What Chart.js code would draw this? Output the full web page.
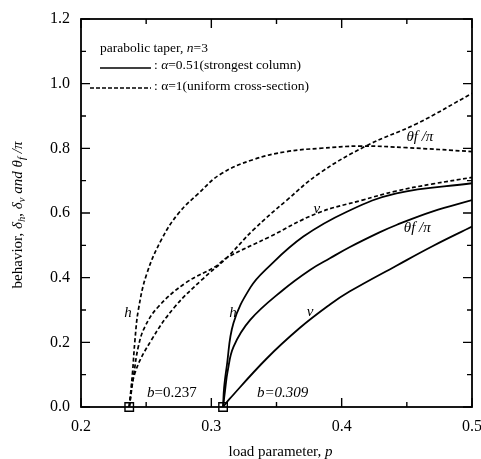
<!DOCTYPE html>
<html>
<head>
<meta charset="utf-8">
<script src="https://cdn.jsdelivr.net/npm/chart.js@4"></script>
<style>
  body { margin: 0; background: #fff; }
  canvas { display: block; }
</style>
</head>
<body>
<canvas id="chart" width="481" height="459"></canvas>
<script>
// alpha = 1 (uniform cross-section), dashed
const hDashP = [0.237, 0.2395, 0.2414, 0.244, 0.2503, 0.262, 0.275, 0.290, 0.307, 0.332, 0.358, 0.383, 0.414, 0.45, 0.5];
const hDashV = [0, 0.105, 0.207, 0.30, 0.41, 0.52, 0.60, 0.66, 0.72, 0.765, 0.79, 0.80, 0.807, 0.802, 0.79];
const vDashP = [0.237, 0.2405, 0.244, 0.249, 0.2593, 0.280, 0.303, 0.312, 0.345, 0.381, 0.416, 0.442, 0.47, 0.5];
const vDashV = [0, 0.10, 0.187, 0.248, 0.31, 0.383, 0.434, 0.462, 0.527, 0.599, 0.64, 0.668, 0.69, 0.71];
const thDashP = [0.237, 0.2414, 0.254, 0.272, 0.2926, 0.312, 0.332, 0.358, 0.383, 0.419, 0.458, 0.5];
const thDashV = [0, 0.105, 0.207, 0.31, 0.393, 0.462, 0.547, 0.64, 0.723, 0.808, 0.877, 0.97];

// alpha = 0.51 (strongest column), solid
const hSolidP = [0.309, 0.3098, 0.3118, 0.317, 0.330, 0.3425, 0.3706, 0.404, 0.442, 0.5];
const hSolidV = [0, 0.06, 0.125, 0.26, 0.37, 0.428, 0.527, 0.604, 0.661, 0.692];
const thSolidP = [0.309, 0.3105, 0.3125, 0.317, 0.330, 0.355, 0.3757, 0.391, 0.406, 0.429, 0.442, 0.47, 0.5];
const thSolidV = [0, 0.05, 0.11, 0.186, 0.27, 0.362, 0.424, 0.46, 0.494, 0.54, 0.563, 0.605, 0.64];
const vSolidP = [0.309, 0.314, 0.3425, 0.368, 0.391, 0.406, 0.442, 0.47, 0.5];
const vSolidV = [0, 0.025, 0.15, 0.245, 0.317, 0.357, 0.437, 0.498, 0.558];

// bifurcation points
const bifP = [0.237, 0.309];
const bifV = [0, 0];

const xTicks = [0.2, 0.3, 0.4, 0.5];
const yTicks = [0, 0.2, 0.4, 0.6, 0.8, 1.0, 1.2];

const SERIF = '"Liberation Serif", "DejaVu Serif", serif';
const pts = (ps, vs) => ps.map((p, i) => ({ x: p, y: vs[i] }));

function curve(ps, vs, dashed) {
  return {
    data: pts(ps, vs),
    showLine: true,
    borderColor: '#000',
    borderWidth: dashed ? 1.7 : 1.8,
    borderDash: dashed ? [4, 2.5] : [],
    pointRadius: 0,
    tension: 0.4,
    fill: false
  };
}

// draw a run of text pieces (roman / italic / subscript) starting at x
function richWidth(ctx, segs, size) {
  let w = 0;
  segs.forEach(s => {
    const fs = s.sub ? size * 0.72 : size;
    ctx.font = (s.it ? 'italic ' : '') + fs + 'px ' + SERIF;
    w += ctx.measureText(s.t).width;
  });
  return w;
}
function drawRich(ctx, x, y, segs, size, align) {
  let cx = x;
  if (align === 'center') cx -= richWidth(ctx, segs, size) / 2;
  ctx.textBaseline = 'middle';
  ctx.textAlign = 'left';
  segs.forEach(s => {
    const fs = s.sub ? size * 0.72 : size;
    ctx.font = (s.it ? 'italic ' : '') + fs + 'px ' + SERIF;
    ctx.fillText(s.t, cx, s.sub ? y + size * 0.28 : y);
    cx += ctx.measureText(s.t).width;
  });
}

const decor = {
  id: 'decor',
  beforeDraw(chart) {
    const ctx = chart.ctx;
    ctx.save();
    ctx.fillStyle = '#fff';
    ctx.fillRect(0, 0, chart.width, chart.height);
    ctx.restore();
  },
  afterDatasetsDraw(chart) {
    const ctx = chart.ctx;
    const a = chart.chartArea;
    const xs = chart.scales.x, ys = chart.scales.y;
    ctx.save();
    ctx.strokeStyle = '#000';
    ctx.fillStyle = '#000';

    // frame
    ctx.lineWidth = 1.8;
    ctx.strokeRect(a.left, a.top, a.right - a.left, a.bottom - a.top);

    // inward ticks, major and minor
    ctx.lineWidth = 1.4;
    ctx.beginPath();
    for (let i = 0; i <= 6; i++) {
      const v = 0.2 + i * 0.05;
      const px = xs.getPixelForValue(v);
      const len = i % 2 === 0 ? 9 : 5;
      ctx.moveTo(px, a.bottom); ctx.lineTo(px, a.bottom - len);
      ctx.moveTo(px, a.top); ctx.lineTo(px, a.top + len);
    }
    for (let i = 0; i <= 12; i++) {
      const v = i * 0.1;
      const py = ys.getPixelForValue(v);
      const len = i % 2 === 0 ? 9 : 5;
      ctx.moveTo(a.left, py); ctx.lineTo(a.left + len, py);
      ctx.moveTo(a.right, py); ctx.lineTo(a.right - len, py);
    }
    ctx.stroke();

    // curve labels
    const notes = [
      { x: 0.236, y: 0.29, segs: [{ t: 'h', it: true }] },
      { x: 0.3167, y: 0.29, segs: [{ t: 'h', it: true }] },
      { x: 0.3757, y: 0.294, segs: [{ t: 'v', it: true }] },
      { x: 0.381, y: 0.612, segs: [{ t: 'v', it: true }] },
      { x: 0.458, y: 0.553, segs: [{ t: 'θf /π', it: true }] },
      { x: 0.460, y: 0.835, segs: [{ t: 'θf /π', it: true }] }
    ];
    notes.forEach(n => {
      drawRich(ctx, xs.getPixelForValue(n.x), ys.getPixelForValue(n.y), n.segs, 15, 'center');
    });
    drawRich(ctx, xs.getPixelForValue(0.2506), ys.getPixelForValue(0.043),
      [{ t: 'b', it: true }, { t: '=0.237' }], 15, 'left');
    drawRich(ctx, xs.getPixelForValue(0.335), ys.getPixelForValue(0.043),
      [{ t: 'b=0.309', it: true }], 15, 'left');

    // legend box
    drawRich(ctx, 100, 48, [{ t: 'parabolic taper, ' }, { t: 'n', it: true }, { t: '=3' }], 13.5, 'left');
    ctx.lineWidth = 1.6;
    ctx.setLineDash([]);
    ctx.beginPath(); ctx.moveTo(100, 68); ctx.lineTo(151, 68); ctx.stroke();
    drawRich(ctx, 154, 65, [{ t: ': ' }, { t: 'α', it: true }, { t: '=0.51(strongest column)' }], 13.5, 'left');
    ctx.setLineDash([4, 2]);
    ctx.beginPath(); ctx.moveTo(90, 88); ctx.lineTo(151, 88); ctx.stroke();
    ctx.setLineDash([]);
    drawRich(ctx, 154, 86, [{ t: ': α=1(uniform cross-section)' }], 13.5, 'left');

    // axis titles
    drawRich(ctx, (a.left + a.right) / 2 + 4, 452, [{ t: 'load parameter, ' }, { t: 'p', it: true }], 15, 'center');
    ctx.save();
    ctx.translate(18, (a.top + a.bottom) / 2 + 2);
    ctx.rotate(-Math.PI / 2);
    drawRich(ctx, 0, 0, [
      { t: 'behavior, ' }, { t: 'δ', it: true }, { t: 'h', it: true, sub: true },
      { t: ', ' }, { t: 'δ', it: true }, { t: 'v', it: true, sub: true },
      { t: ' and θ', it: true }, { t: 'f', it: true, sub: true }, { t: ' /π', it: true }
    ], 15, 'center');
    ctx.restore();

    ctx.restore();
  }
};

const tickFont = { family: SERIF, size: 16 };

new Chart(document.getElementById('chart'), {
  type: 'scatter',
  data: {
    datasets: [
      curve(hDashP, hDashV, true),
      curve(vDashP, vDashV, true),
      curve(thDashP, thDashV, true),
      curve(hSolidP, hSolidV, false),
      curve(thSolidP, thSolidV, false),
      curve(vSolidP, vSolidV, false),
      {
        data: pts(bifP, bifV),
        pointStyle: 'rect',
        pointRadius: 6,
        borderColor: '#000',
        borderWidth: 1.4,
        backgroundColor: 'rgba(0,0,0,0)',
        showLine: false,
        clip: false
      }
    ]
  },
  options: {
    responsive: false,
    animation: false,
    layout: { padding: { top: 19, right: 9, left: 0, bottom: 0 } },
    plugins: { legend: { display: false }, tooltip: { enabled: false } },
    scales: {
      x: {
        type: 'linear', min: 0.2, max: 0.5,
        afterBuildTicks: s => { s.ticks = xTicks.map(v => ({ value: v })); },
        ticks: { callback: v => v.toFixed(1), font: tickFont, color: '#000', padding: 10, maxRotation: 0 },
        grid: { display: false, drawTicks: false },
        border: { display: false },
        afterFit: s => { s.height = 52; s.paddingLeft = 0; s.paddingRight = 0; }
      },
      y: {
        type: 'linear', min: 0, max: 1.2,
        afterBuildTicks: s => { s.ticks = yTicks.map(v => ({ value: v })); },
        ticks: { callback: v => v.toFixed(1), font: tickFont, color: '#000', padding: 11 },
        grid: { display: false, drawTicks: false },
        border: { display: false },
        afterFit: s => { s.width = 81; s.paddingTop = 0; s.paddingBottom = 0; }
      }
    }
  },
  plugins: [decor]
});
</script>
</body>
</html>
